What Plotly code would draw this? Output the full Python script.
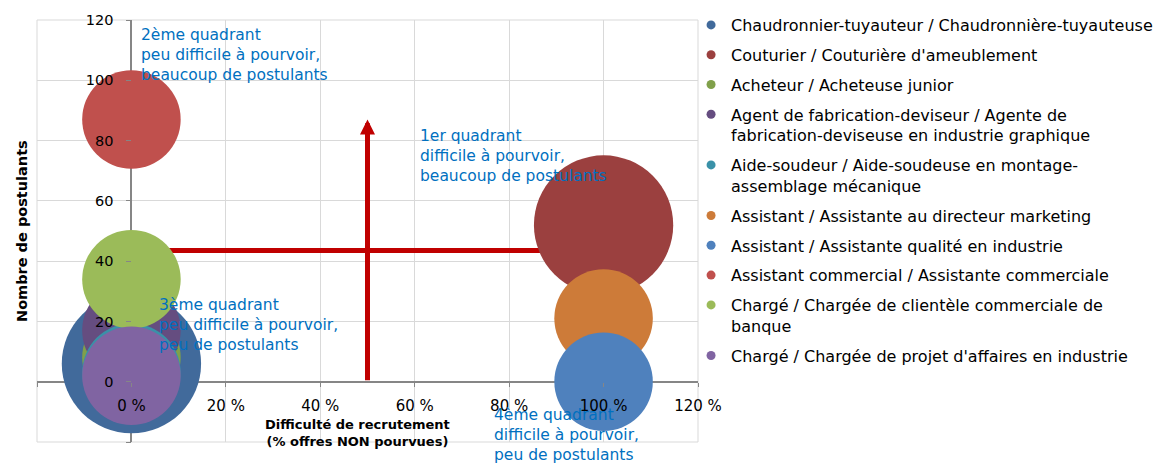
import plotly.graph_objects as go

# ---------------- data ----------------
job_names = [
    "Chaudronnier-tuyauteur / Chaudronnière-tuyauteuse",
    "Couturier / Couturière d'ameublement",
    "Acheteur / Acheteuse junior",
    "Agent de fabrication-deviseur / Agente de<br>fabrication-deviseuse en industrie graphique",
    "Aide-soudeur / Aide-soudeuse en montage-<br>assemblage mécanique",
    "Assistant / Assistante au directeur marketing",
    "Assistant / Assistante qualité en industrie",
    "Assistant commercial / Assistante commerciale",
    "Chargé / Chargée de clientèle commerciale de<br>banque",
    "Chargé / Chargée de projet d'affaires en industrie",
]
difficulty_pct = [0, 100, 0, 0, 0, 100, 100, 0, 0, 0]
applicants = [6, 52, 8, 17, 3, 21, 0, 87, 34, 2]
offers = [2, 2, 1, 1, 1, 1, 1, 1, 1, 1]

bubble_colors = [
    "#416A9B", "#9B403F", "#80A04A", "#654D80", "#3A91A8",
    "#CD7B39", "#4F81BD", "#C0504D", "#9BBB59", "#8064A2",
]

x_tickvals = [-20, 0, 20, 40, 60, 80, 100, 120]
x_ticktext = ["", "0 %", "20 %", "40 %", "60 %", "80 %", "100 %", "120 %"]
y_tickvals = [-20, 0, 20, 40, 60, 80, 100, 120]
y_ticktext = ["", "0", "20", "40", "60", "80", "100", "120"]

threshold_x = 50      # vertical arrow position (% difficulty)
threshold_y = 43.5    # horizontal line level (applicants)
arrow_top = 87

quadrant_texts = [
    "2ème quadrant<br>peu difficile à pourvoir,<br>beaucoup de postulants",
    "1er quadrant<br>difficile à pourvoir,<br>beaucoup de postulants",
    "3ème quadrant<br>peu difficile à pourvoir,<br>peu de postulants",
    "4ème quadrant<br>difficile à pourvoir,<br>peu de postulants",
]

# ---------------- figure ----------------
FONT = "DejaVu Sans"
max_diam = 98.5
sizeref = max(offers) / (max_diam ** 2)

fig = go.Figure()

for name, xv, yv, sv, col in zip(job_names, difficulty_pct, applicants, offers, bubble_colors):
    fig.add_trace(go.Scatter(
        x=[xv], y=[yv], mode="markers", name=name,
        marker=dict(size=[sv], sizemode="area", sizeref=sizeref, color=col,
                    opacity=1, line=dict(width=0)),
        showlegend=False, legendgroup=name, hoverinfo="name+x+y",
    ))

for name, col in zip(job_names, bubble_colors):
    fig.add_trace(go.Scatter(
        x=[None], y=[None], mode="markers", name=name,
        marker=dict(size=9, color=col), legendgroup=name, showlegend=True,
    ))

# horizontal threshold line (below bubbles)
fig.add_shape(type="line", xref="x", yref="y", x0=0, x1=100, y0=threshold_y, y1=threshold_y,
              line=dict(color="#C00000", width=5), layer="between")
# vertical arrow
fig.add_annotation(x=threshold_x, y=arrow_top, ax=threshold_x, ay=0, xref="x", yref="y",
                   axref="x", ayref="y", text="", showarrow=True, arrowhead=2,
                   arrowsize=0.6, arrowwidth=5, arrowcolor="#C00000")

# plot border
fig.add_shape(type="rect", xref="paper", yref="paper", x0=0, x1=1, y0=0, y1=1,
              line=dict(color="#D9D9D9", width=1), layer="below")

quad_pos = [(1.7, 118.6), (60.8, 85.3), (5.5, 29.0), (76.4, -7.4)]
for txt, (qx, qy) in zip(quadrant_texts, quad_pos):
    fig.add_annotation(x=qx, y=qy, xref="x", yref="y", text=txt, showarrow=False,
                       xanchor="left", yanchor="top", align="left",
                       font=dict(family=FONT, size=15.5, color="#0070C0"))

# axis titles
fig.add_annotation(x=47.8, y=-17, xref="x", yref="y",
                   text="<b>Difficulté de recrutement</b><br><b>(% offres NON pourvues)</b>",
                   showarrow=False, xanchor="center", yanchor="middle", align="center",
                   font=dict(family=FONT, size=13, color="black"))
fig.add_annotation(x=-0.0227, y=0.5, xref="paper", yref="paper",
                   text="<b>Nombre de postulants</b>", textangle=-90, showarrow=False,
                   xanchor="center", yanchor="middle",
                   font=dict(family=FONT, size=14.5, color="black"))

fig.update_layout(
    width=1165, height=455,
    margin=dict(l=29, r=475, t=12, b=21, autoexpand=False),
    plot_bgcolor="white", paper_bgcolor="white",
    font=dict(family=FONT, size=14, color="black"),
    legend=dict(x=0.9895, y=1.007, xanchor="left", yanchor="top", yref="container",
                font=dict(family=FONT, size=16, color="black"),
                tracegroupgap=6, valign="top", bgcolor="rgba(0,0,0,0)",
                maxheight=460),
    xaxis=dict(range=[-20, 120], tickvals=x_tickvals, ticktext=x_ticktext,
               showgrid=True, gridcolor="#D9D9D9", gridwidth=1,
               zeroline=True, zerolinecolor="#868686", zerolinewidth=1.5,
               showline=False, ticks="outside", ticklen=4, tickcolor="#868686",
               anchor="free", position=1/7, layer="above traces",
               ticklabelstandoff=6, tickfont=dict(size=15)),
    yaxis=dict(range=[-20, 120], tickvals=y_tickvals, ticktext=y_ticktext,
               showgrid=True, gridcolor="#D9D9D9", gridwidth=1,
               zeroline=True, zerolinecolor="#868686", zerolinewidth=1.5,
               showline=False, ticks="outside", ticklen=5, tickcolor="#868686",
               anchor="free", position=1/7, layer="above traces",
               ticklabelstandoff=10, tickfont=dict(size=14.5)),
)

fig.write_html("out.html")
